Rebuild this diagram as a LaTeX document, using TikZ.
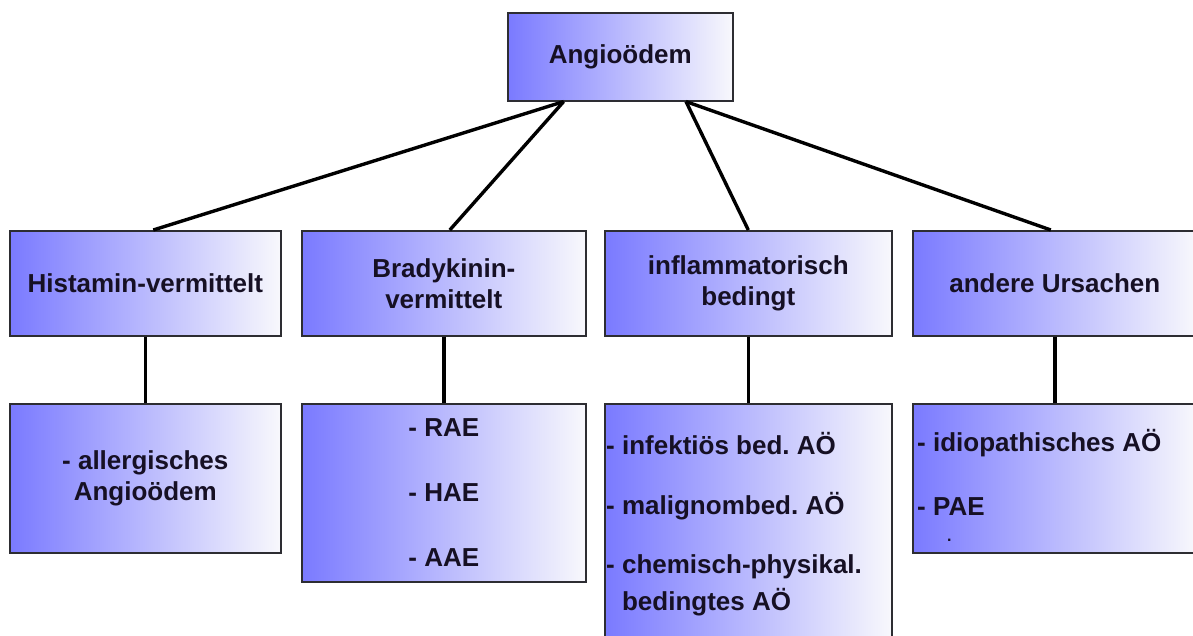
\documentclass[tikz,border=0pt]{standalone}
\usepackage{fontspec}
\setmainfont{Liberation Sans}
\usetikzlibrary{positioning,calc}
\frenchspacing

\definecolor{boxblue}{RGB}{122,122,255}
\definecolor{boxwhite}{RGB}{248,248,252}
\definecolor{boxline}{RGB}{45,45,50}
\definecolor{txtdark}{RGB}{22,16,36}

\begin{document}
\begin{tikzpicture}[x=1pt, y=-1pt,
  box/.style={draw=boxline, line width=1.6pt, left color=boxblue, right color=boxwhite,
    anchor=north west, inner sep=0pt, align=center, text=txtdark,
    font=\fontsize{26}{31}\selectfont\bfseries},
  listtxt/.style={anchor=north west, inner sep=0pt, align=left, text=txtdark,
    font=\fontsize{26}{31}\selectfont\bfseries},
  link/.style={line width=3.4pt, black}
]
\useasboundingbox (0,0) rectangle (1193,636);

% top
\node[box, minimum width=225pt, minimum height=88pt] (top) at (507,12) {Angioödem};

% second row
\node[box, minimum width=271pt, minimum height=105pt] (hist) at (9,230) {Histamin-vermittelt};
\node[box, minimum width=284pt, minimum height=105pt] (brady) at (301,230) {Bradykinin-\\vermittelt};
\node[box, minimum width=287pt, minimum height=105pt] (infl) at (604,230) {inflammatorisch\\bedingt};
\node[box, minimum width=284pt, minimum height=105pt] (andere) at (912,230) {andere Ursachen};

% third row
\node[box, minimum width=271pt, minimum height=149pt] (histL) at (9,403) {- allergisches\\Angioödem};
\node[box, minimum width=284pt, minimum height=178pt] (bradyL) at (301,403) {- RAE\\[34pt]- HAE\\[34pt]- AAE};
\node[box, minimum width=287pt, minimum height=260pt] (inflL) at (604,403) {};
\node[box, minimum width=284pt, minimum height=149pt] (andereL) at (912,403) {};

\node[listtxt] (inflTxt) at ($(inflL.north west)+(2,29)$)
  {- infektiös bed. AÖ\\[29pt]- malignombed. AÖ\\[28pt]- chemisch-physikal.\\[6pt]\phantom{- }bedingtes AÖ};
\node[listtxt] (andereTxt) at ($(andereL.north west)+(5,26)$)
  {- idiopathisches AÖ\\[33pt]- PAE\\[-5pt]\hspace{30pt}{\fontsize{16}{16}\selectfont .}};

% connectors
\coordinate (topL) at ($(top.south west)!0.25!(top.south east)$);
\coordinate (topR) at ($(top.south west)!0.79!(top.south east)$);
\draw[link] (topL) -- ($(hist.north)+(8,0)$);
\draw[link] (topL) -- ($(brady.north)+(6,0)$);
\draw[link] (topR) -- (infl.north);
\draw[link] (topR) -- ($(andere.north)+(-4,0)$);

\draw[link] (hist.south) -- (histL.north);
\draw[link] (brady.south) -- (bradyL.north);
\draw[link] (infl.south) -- (inflL.north);
\draw[link] (andere.south) -- (andereL.north);

\end{tikzpicture}
\end{document}
